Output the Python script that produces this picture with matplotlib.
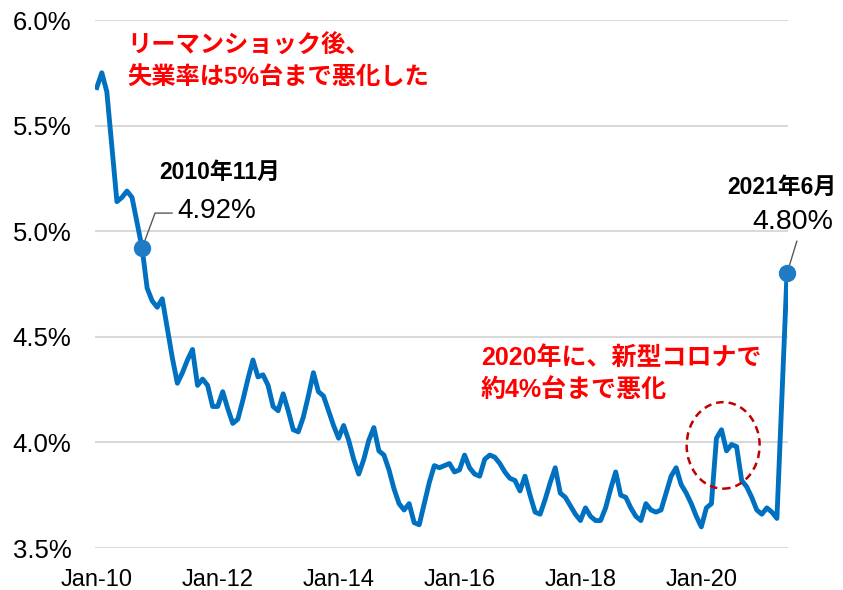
import matplotlib.pyplot as plt
from matplotlib.patches import Ellipse

## データ (月次, 2010年1月〜2021年6月)
rate = [5.68, 5.75, 5.66, 5.40, 5.14, 5.16, 5.19, 5.16, 5.04, 4.92,
        4.73, 4.67, 4.64, 4.68, 4.54, 4.40, 4.28, 4.33, 4.39, 4.44,
        4.27, 4.30, 4.27, 4.17, 4.17, 4.24, 4.16, 4.09, 4.11, 4.20,
        4.30, 4.39, 4.31, 4.32, 4.27, 4.17, 4.15, 4.23, 4.15, 4.06,
        4.05, 4.12, 4.22, 4.33, 4.24, 4.22, 4.15, 4.08, 4.02, 4.08,
        4.01, 3.92, 3.85, 3.92, 4.01, 4.07, 3.96, 3.94, 3.87, 3.78,
        3.71, 3.68, 3.71, 3.62, 3.61, 3.71, 3.81, 3.89, 3.88, 3.89,
        3.90, 3.86, 3.87, 3.94, 3.88, 3.85, 3.84, 3.92, 3.94, 3.93,
        3.90, 3.86, 3.83, 3.82, 3.77, 3.84, 3.75, 3.67, 3.66, 3.73,
        3.81, 3.88, 3.76, 3.74, 3.70, 3.66, 3.63, 3.69, 3.65, 3.63,
        3.63, 3.69, 3.78, 3.86, 3.75, 3.74, 3.69, 3.65, 3.63, 3.71,
        3.68, 3.67, 3.68, 3.76, 3.84, 3.88, 3.80, 3.76, 3.71, 3.65,
        3.60, 3.69, 3.71, 4.02, 4.06, 3.96, 3.99, 3.98, 3.82, 3.79,
        3.74, 3.68, 3.66, 3.69, 3.67, 3.64, 4.22, 4.80]
months = list(range(len(rate)))

tick_pos = [0, 24, 48, 72, 96, 120]
tick_labels = ['Jan-10', 'Jan-12', 'Jan-14', 'Jan-16', 'Jan-18', 'Jan-20']
y_ticks = [3.5, 4.0, 4.5, 5.0, 5.5, 6.0]

# 注目点
mark_idx = [9, 137]
mark_date = ['2010年11月', '2021年6月']

jp = ['Liberation Sans', 'Noto Sans CJK JP']
plt.rcParams['font.family'] = jp

W, H = 843, 590
fig = plt.figure(figsize=(W / 100, H / 100), dpi=100)
ax = fig.add_axes([95 / W, 1 - 548 / H, 693 / W, 528 / H])

ax.plot(months, rate, color='#0070C0', lw=3.5, solid_joinstyle='round', zorder=3)
ax.plot(mark_idx, [rate[i] for i in mark_idx], 'o', color='#1F7BC4', ms=11.5,
        zorder=4, clip_on=False)

ax.set_xlim(-0.35, 137.2)
ax.set_ylim(3.5, 6.0)
ax.set_yticks(y_ticks)
ax.set_yticklabels(['%.1f%%' % v for v in y_ticks])
ax.set_xticks(tick_pos)
ax.set_xticklabels(tick_labels)
ax.tick_params(length=0, colors='black')
ax.tick_params(axis='y', labelsize=18.5, pad=17)
ax.tick_params(axis='x', labelsize=17, pad=15)
ax.grid(axis='y', color='#D9D9D9', lw=1.5)
ax.set_axisbelow(True)
for s in ax.spines.values():
    s.set_visible(False)


def px(x, y):
    return x / W, 1 - y / H


def dx(x):
    return (x - 96.7) / 5.04


def dy(y):
    return 6.0 - (y - 20) / 210


red = dict(color='#FF0000', fontsize=17.5, fontweight='bold', va='center', ha='left')

# 注釈 (リーマンショック)
fig.text(*px(127, 46), 'リーマンショック後、', **red)
fig.text(*px(127, 78), '失業率は5%台まで悪化した', **red)

# 2010年11月
fig.text(*px(159, 172), mark_date[0], fontsize=16.5, fontweight='bold', va='center')
fig.text(*px(177, 211), '%.2f%%' % rate[mark_idx[0]], fontsize=20, va='center')
ax.plot([mark_idx[0], dx(155), dx(172)], [rate[mark_idx[0]], dy(212), dy(212)],
        color='#595959', lw=1, zorder=2, clip_on=False)

# 2021年6月
fig.text(*px(727, 187), mark_date[1], fontsize=16.5, fontweight='bold', va='center')
fig.text(*px(752, 222), '%.2f%%' % rate[mark_idx[1]], fontsize=20.5, va='center')
ax.plot([mark_idx[1], dx(797)], [rate[mark_idx[1]], dy(240)],
        color='#595959', lw=1, zorder=2, clip_on=False)

# 新型コロナ
fig.text(*px(481, 358), '2020年に、新型コロナで', fontsize=18,
         **{k: v for k, v in red.items() if k != 'fontsize'})
fig.text(*px(481, 390), '約4%台まで悪化', fontsize=18,
         **{k: v for k, v in red.items() if k != 'fontsize'})
ax.add_patch(Ellipse((dx(723.3), dy(443)), 73 / 5.04, 86 / 210, fill=False,
                     ls=(0, (3, 2)), ec='#C00000', lw=1.8, zorder=5))

fig.savefig('out.png', dpi=100)
